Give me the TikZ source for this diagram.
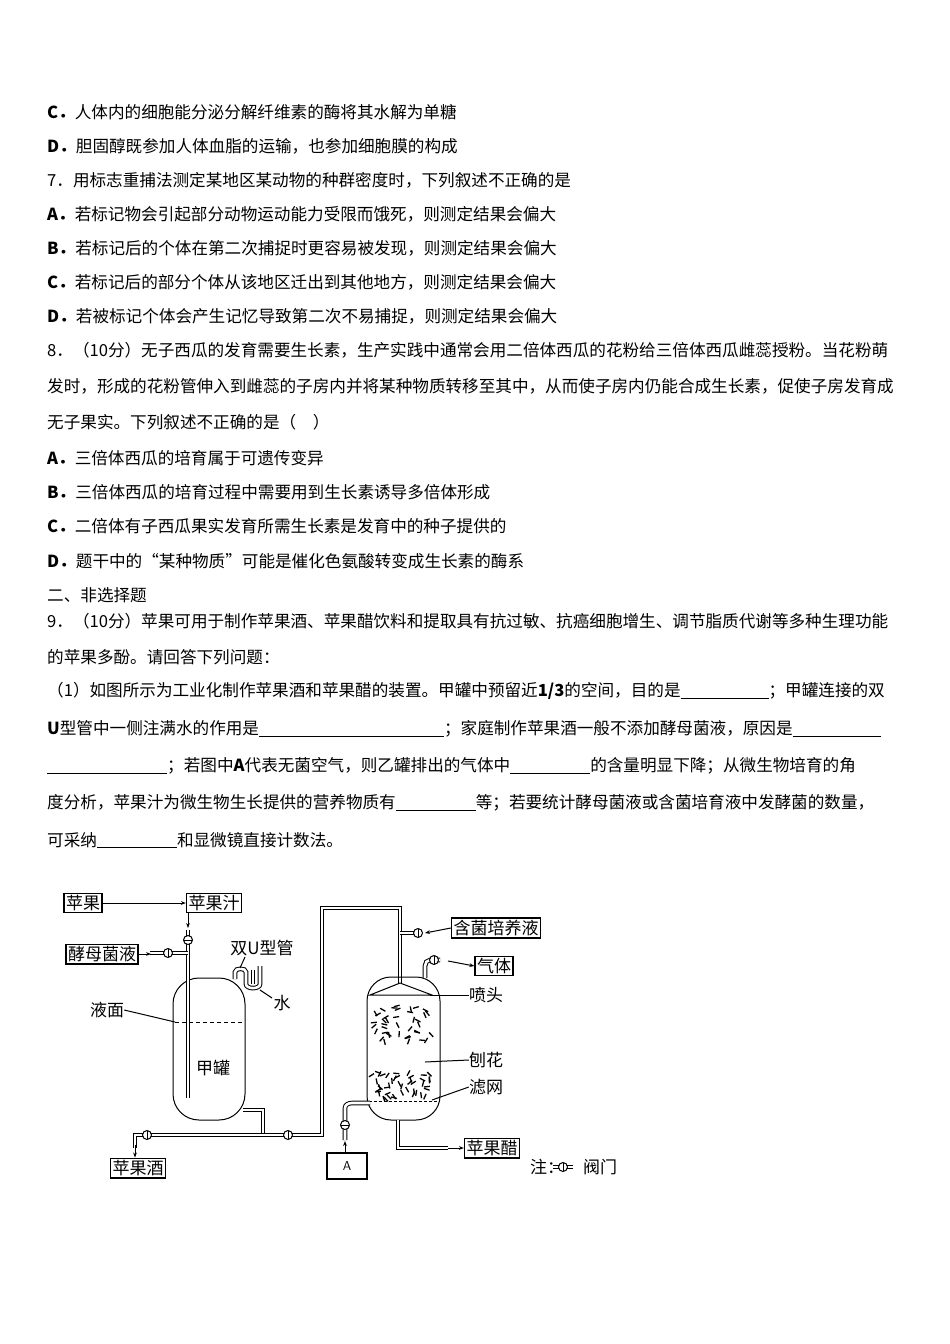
\documentclass[tikz,border=0pt]{standalone}
\usepackage{fontspec}
\setmainfont{Noto Sans CJK SC}
\usetikzlibrary{arrows.meta}
\newcommand{\blank}[1]{\rule[-2pt]{#1pt}{0.7pt}}
\begin{document}
\begin{tikzpicture}[x=1pt,y=-1pt,
  txt/.style={anchor=west,inner sep=0pt,font=\fontsize{16.6}{18}\selectfont},
  lbl/.style={inner sep=0pt,font=\fontsize{17}{19}\selectfont},
  bx/.style={draw,line width=1.3pt,inner sep=2pt,font=\fontsize{17}{19}\selectfont},
  pipe/.style={double,double distance=2.6pt,line width=1pt},
  arr/.style={-{Stealth[length=5pt]},line width=1pt},
  thin/.style={line width=1pt}]
\useasboundingbox (0,0) rectangle (950,1344);
\fill[white] (0,0) rectangle (950,1344);
% text
\node[txt] (t1) at (47,112) {\textbf{C．}人体内的细胞能分泌分解纤维素的酶将其水解为单糖};
\node[txt] (t2) at (47,146) {\textbf{D．}胆固醇既参加人体血脂的运输，也参加细胞膜的构成};
\node[txt] (t3) at (47,180) {7．用标志重捕法测定某地区某动物的种群密度时，下列叙述不正确的是};
\node[txt] (t4) at (47,214) {\textbf{A．}若标记物会引起部分动物运动能力受限而饿死，则测定结果会偏大};
\node[txt] (t5) at (47,248) {\textbf{B．}若标记后的个体在第二次捕捉时更容易被发现，则测定结果会偏大};
\node[txt] (t6) at (47,282) {\textbf{C．}若标记后的部分个体从该地区迁出到其他地方，则测定结果会偏大};
\node[txt] (t7) at (47,316) {\textbf{D．}若被标记个体会产生记忆导致第二次不易捕捉，则测定结果会偏大};
\node[txt] (t8) at (47,350) {8．（10分）无子西瓜的发育需要生长素，生产实践中通常会用二倍体西瓜的花粉给三倍体西瓜雌蕊授粉。当花粉萌};
\node[txt] (t9) at (47,386) {发时，形成的花粉管伸入到雌蕊的子房内并将某种物质转移至其中，从而使子房内仍能合成生长素，促使子房发育成};
\node[txt] (t10) at (47,422) {无子果实。下列叙述不正确的是（\quad）};
\node[txt] (t11) at (47,458) {\textbf{A．}三倍体西瓜的培育属于可遗传变异};
\node[txt] (t12) at (47,492) {\textbf{B．}三倍体西瓜的培育过程中需要用到生长素诱导多倍体形成};
\node[txt] (t13) at (47,526) {\textbf{C．}二倍体有子西瓜果实发育所需生长素是发育中的种子提供的};
\node[txt] (t14) at (47,561) {\textbf{D．}题干中的“某种物质”可能是催化色氨酸转变成生长素的酶系};
\node[txt] (t15) at (47,595) {二、非选择题};
\node[txt] (t16) at (47,621) {9．（10分）苹果可用于制作苹果酒、苹果醋饮料和提取具有抗过敏、抗癌细胞增生、调节脂质代谢等多种生理功能};
\node[txt] (t17) at (47,657) {的苹果多酚。请回答下列问题：};
\node[txt] (t18) at (47,691) {（1）如图所示为工业化制作苹果酒和苹果醋的装置。甲罐中预留近\textbf{1/3}的空间，目的是\blank{88}；甲罐连接的双};
\node[txt] (t19) at (47,729) {\textbf{U}型管中一侧注满水的作用是\blank{185}；家庭制作苹果酒一般不添加酵母菌液，原因是\blank{88}};
\node[txt] (t20) at (47,766) {\blank{120}；若图中\textbf{A}代表无菌空气，则乙罐排出的气体中\blank{80}的含量明显下降；从微生物培育的角};
\node[txt] (t21) at (47,803) {度分析，苹果汁为微生物生长提供的营养物质有\blank{80}等；若要统计酵母菌液或含菌培育液中发酵菌的数量，};
\node[txt] (t22) at (47,840) {可采纳\blank{80}和显微镜直接计数法。};
% ===== diagram =====
\node[bx] (pg) at (83,903) {苹果};
\node[bx] (pgz) at (214,903) {苹果汁};
\node[bx] (jm) at (102,954) {酵母菌液};
\node[bx] (pgj) at (138,1168) {苹果酒};
\node[bx,font=\sffamily\fontsize{13}{15}\selectfont,minimum width=40pt,minimum height=26pt] (A) at (347,1166) {A};
\node[bx] (hj) at (496,928) {含菌培养液};
\node[bx] (qt) at (494,966) {气体};
\node[bx] (pgc) at (492,1148) {苹果醋};
\draw[arr] (pg) -- (pgz);
% tank 1
\draw[thin,rounded corners=26] (173,978) rectangle (245,1120);
\draw[thin,dashed,dash pattern=on 4pt off 3pt] (175,1022) -- (243,1022);
\coordinate (v1) at (188,940);
\coordinate (v2) at (168,953);
\draw[arr] (pgz.south -| v1) -- (188,928);
\draw[pipe] (188,930) -- (188,1098);
\draw[pipe] (150,953) -- (188,953);
\draw[arr] (jm.east) -- (151,954);
\foreach \v in {v1,v2} \draw[thin,fill=white] (\v) circle (4.5);
\draw[thin] (184,940) -- (192,940);
\draw[thin] (168,949) -- (168,957);
% double U tube
\draw[pipe] (235,979) -- (235,972) to[out=90,in=90] (246,972) -- (246,984) to[out=-90,in=-90] (260,984) -- (260,966);
\draw[pipe] (253,984) -- (253,970);
\node[lbl] (su) at (262,948) {双U型管};
\node[lbl] (sh) at (282,1003) {水};
\draw[thin] (245,957) -- (240,968);
\draw[thin] (260,990) -- (272,998);
\node[lbl] (ym) at (107,1010) {液面};
\draw[thin] (ym.east) -- (175,1022);
\node[lbl] (jg) at (213,1068) {甲罐};
% bottom pipes
\draw[pipe] (243,1110) -- (263,1110) -- (263,1135);
\draw[pipe] (135,1148) -- (135,1135) -- (322,1135) -- (322,908) -- (400,908) -- (400,985);
\draw[arr] (135,1145) -- (pgj.north -| 135,0);
\foreach \x in {147,288} {\draw[thin,fill=white] (\x,1135) circle (4.5); \draw[thin] (\x,1131) -- (\x,1139);}
% tank 2
\draw[thin,rounded corners=24] (367,977) rectangle (440,1120);
\draw[thin,fill=white] (400,983) -- (370,995) -- (432,995) -- cycle;
\draw[pipe] (400,933) -- (414,933);
\draw[thin,fill=white] (418,933) circle (4.5); \draw[thin] (418,929) -- (418,937);
\draw[arr] (hj.west) -- (425,933);
\draw[pipe] (425,978) -- (425,966) to[out=90,in=180] (430,960) -- (440,960);
\draw[thin,fill=white] (434,960) circle (4.5); \draw[thin] (434,956) -- (434,964);
\draw[arr] (448,961) -- (qt.west);
\node[lbl] (pt) at (486,995) {喷头};
\draw[thin] (430,995) -- (pt.west);
\pgfmathsetseed{7}
\foreach \i in {1,...,40} {
  \pgfmathsetmacro{\xx}{374+rnd*56}
  \pgfmathsetmacro{\yy}{1004+rnd*36}
  \pgfmathsetmacro{\aa}{rnd*180}
  \draw[line width=1.3pt] (\xx,\yy) -- ++(\aa:6);
}
\foreach \i in {1,...,45} {
  \pgfmathsetmacro{\xx}{374+rnd*56}
  \pgfmathsetmacro{\yy}{1070+rnd*28}
  \pgfmathsetmacro{\aa}{rnd*180}
  \draw[line width=1.3pt] (\xx,\yy) -- ++(\aa:6);
}
\draw[thin,dash pattern=on 3pt off 2pt] (369,1101) -- (438,1101);
\node[lbl] (bh) at (486,1060) {刨花};
\draw[thin] (425,1062) -- (bh.west);
\node[lbl] (lw) at (486,1087) {滤网};
\draw[thin] (432,1100) -- (lw.west);
\draw[pipe] (345,1140) -- (345,1108) to[out=90,in=180] (352,1103) -- (370,1103);
\draw[arr] (A.north -| 345,0) -- (345,1141);
\draw[thin,fill=white] (345,1125) circle (4.5); \draw[thin] (341,1125) -- (349,1125);
\draw[pipe] (398,1120) -- (398,1148) -- (448,1148);
\draw[arr] (448,1148) -- (pgc.west);
% legend
\node[lbl,anchor=west] (zh) at (530,1167) {注：};
\coordinate (lv) at (563,1167);
\draw[pipe] (553,1167) -- (573,1167);
\draw[thin,fill=white] (lv) circle (4.5); \draw[thin] (563,1163) -- (563,1171);
\node[lbl,anchor=west] (fm) at (583,1167) {阀门};
\end{tikzpicture}
\end{document}
